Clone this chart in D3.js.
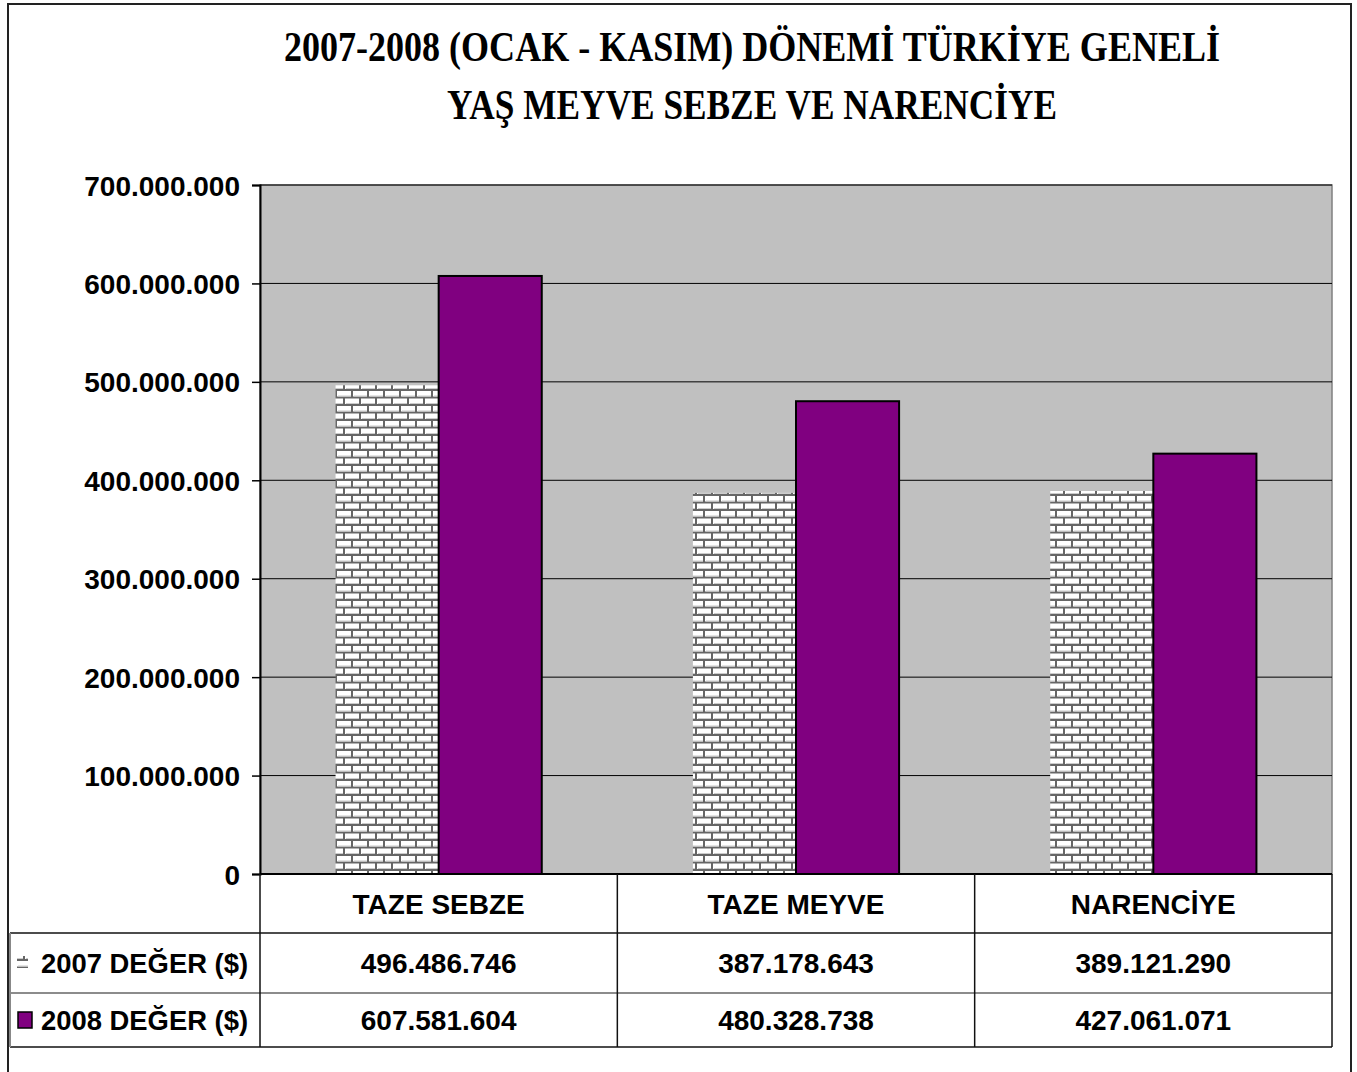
<!DOCTYPE html>
<html>
<head>
<meta charset="utf-8">
<script src="https://cdn.jsdelivr.net/npm/d3@7"></script>
<style>
  body { margin: 0; background: #fff; }
  svg { display: block; }
</style>
</head>
<body>
<svg id="canvas"></svg>
<script>
const categories = ["TAZE SEBZE", "TAZE MEYVE", "NARENCİYE"];
const seriesNames = ["2007 DEĞER ($)", "2008 DEĞER ($)"];
const values2007 = [496486746, 387178643, 389121290];
const values2008 = [607581604, 480328738, 427061071];
const yTicks = [0, 100000000, 200000000, 300000000, 400000000, 500000000, 600000000, 700000000];
const titleLines = ["2007-2008 (OCAK - KASIM) DÖNEMİ TÜRKİYE GENELİ", "YAŞ MEYVE SEBZE VE NARENCİYE"];

const width = 1357;
const height = 1072;
const plot = { left: 260, right: 1332, top: 185, bottom: 874 };
const rowH = [874, 933, 993, 1047];
const sans = "'Liberation Sans', Arial, sans-serif";
const fs = 28;

const tr = d3.formatLocale({ decimal: ",", thousands: ".", grouping: [3], currency: ["", ""] });
const fmt = tr.format(",d");

const canvas = d3.select("#canvas")
    .attr("width", width)
    .attr("height", height);

// brick pattern
const defs = canvas.append("defs");
const pat = defs.append("pattern")
    .attr("id", "brick")
    .attr("patternUnits", "userSpaceOnUse")
    .attr("width", 16)
    .attr("height", 15);
pat.append("rect").attr("width", 16).attr("height", 15).attr("fill", "#666");
const bricks = [[1, 1, 14, 5.5], [-7, 8.5, 14, 5.5], [9, 8.5, 14, 5.5]];
bricks.forEach(b => {
    pat.append("rect").attr("x", b[0]).attr("y", b[1]).attr("width", b[2]).attr("height", b[3]).attr("fill", "#fff");
    pat.append("rect").attr("x", b[0] + 1).attr("y", b[1] + b[3] - 1).attr("width", b[2] - 1).attr("height", 1).attr("fill", "#ccc");
});

// outer frame
canvas.append("rect")
    .attr("x", 8).attr("y", 4)
    .attr("width", 1343).attr("height", 1080)
    .attr("fill", "#fff")
    .attr("stroke", "#222")
    .attr("stroke-width", 2);

// title (stretched a little vertically, like the original)
titleLines.forEach((t, i) => {
    canvas.append("text")
        .attr("transform", `translate(752, ${61 + i * 58}) scale(1, 1.2)`)
        .attr("text-anchor", "middle")
        .attr("font-family", "'Liberation Serif', 'Times New Roman', serif")
        .attr("font-weight", "bold")
        .attr("font-size", 35)
        .attr("textLength", i === 0 ? 936 : 610)
        .attr("lengthAdjust", "spacingAndGlyphs")
        .text(t);
});

const xScale = d3.scaleBand()
    .domain(categories)
    .range([plot.left, plot.right]);
const yScale = d3.scaleLinear()
    .domain([0, 700000000])
    .range([plot.bottom, plot.top]);
const xInner = d3.scaleBand()
    .domain(seriesNames)
    .range([0, xScale.bandwidth()])
    .paddingOuter(0.733);

// plot background
canvas.append("rect")
    .attr("x", plot.left).attr("y", plot.top)
    .attr("width", plot.right - plot.left)
    .attr("height", plot.bottom - plot.top)
    .attr("fill", "#c0c0c0")
    .attr("stroke", "#808080")
    .attr("stroke-width", 1.5);

// gridlines
canvas.append("g")
    .selectAll("line")
    .data(yTicks.slice(1))
    .enter()
    .append("line")
    .attr("x1", plot.left).attr("x2", plot.right)
    .attr("y1", d => yScale(d)).attr("y2", d => yScale(d))
    .attr("stroke", "#000")
    .attr("stroke-width", 1);

// bars
const series = [
    { name: seriesNames[0], values: values2007, fill: "url(#brick)", stroke: "none" },
    { name: seriesNames[1], values: values2008, fill: "#800080", stroke: "#000" }
];
series.forEach(s => {
    canvas.append("g")
        .selectAll("rect")
        .data(categories)
        .enter()
        .append("rect")
        .attr("x", d => xScale(d) + xInner(s.name))
        .attr("y", (d, i) => yScale(s.values[i]))
        .attr("width", xInner.bandwidth())
        .attr("height", (d, i) => plot.bottom - yScale(s.values[i]))
        .attr("fill", s.fill)
        .attr("stroke", s.stroke)
        .attr("stroke-width", 2);
});

// y axis
const yAxis = d3.axisLeft(yScale)
    .tickValues(yTicks)
    .tickFormat(d => d === 0 ? "0" : fmt(d))
    .tickSize(8)
    .tickPadding(12);
const yG = canvas.append("g")
    .attr("transform", `translate(${plot.left}, 0)`)
    .call(yAxis);
yG.select(".domain").attr("stroke", "#000").attr("stroke-width", 2);
yG.selectAll(".tick line").attr("stroke", "#000").attr("stroke-width", 1.5);
yG.selectAll(".tick text")
    .attr("font-family", sans)
    .attr("font-weight", "bold")
    .attr("font-size", fs)
    .attr("dy", "0.36em")
    .attr("fill", "#000");

// data table
const table = canvas.append("g");
const colEdges = categories.map(c => xScale(c)).concat([plot.right]);
table.append("line").attr("x1", plot.left).attr("x2", plot.right)
    .attr("y1", rowH[0]).attr("y2", rowH[0]).attr("stroke", "#000").attr("stroke-width", 2);
[rowH[1], rowH[3]].forEach(y => {
    table.append("line").attr("x1", 10).attr("x2", plot.right)
        .attr("y1", y).attr("y2", y).attr("stroke", "#111").attr("stroke-width", 1.5);
});
table.append("line").attr("x1", 10).attr("x2", plot.right)
    .attr("y1", rowH[2]).attr("y2", rowH[2]).attr("stroke", "#666").attr("stroke-width", 1.5);
colEdges.forEach(x => {
    table.append("line").attr("x1", x).attr("x2", x)
        .attr("y1", rowH[0]).attr("y2", rowH[3]).attr("stroke", "#111").attr("stroke-width", 1.5);
});
table.append("line").attr("x1", 10).attr("x2", 10)
    .attr("y1", rowH[1]).attr("y2", rowH[3]).attr("stroke", "#888").attr("stroke-width", 2);

// header row
table.selectAll(".cat")
    .data(categories)
    .enter()
    .append("text")
    .attr("class", "cat")
    .attr("x", d => xScale(d) + xScale.bandwidth() / 2)
    .attr("y", (rowH[0] + rowH[1]) / 2 + 10)
    .attr("text-anchor", "middle")
    .attr("font-family", sans)
    .attr("font-weight", "bold")
    .attr("font-size", fs)
    .text(d => d);

// value rows
series.forEach((s, r) => {
    const yMid = (rowH[r + 1] + rowH[r + 2]) / 2 + 10;
    table.selectAll(".v" + r)
        .data(categories)
        .enter()
        .append("text")
        .attr("x", d => xScale(d) + xScale.bandwidth() / 2)
        .attr("y", yMid)
        .attr("text-anchor", "middle")
        .attr("font-family", sans)
        .attr("font-weight", "bold")
        .attr("font-size", fs)
        .text((d, i) => fmt(s.values[i]));

    // legend key
    if (r === 0) {
        table.append("rect")
            .attr("x", 17).attr("y", yMid - 17)
            .attr("width", 11).attr("height", 12)
            .attr("fill", "url(#brick)");
    } else {
        table.append("rect")
            .attr("x", 18).attr("y", yMid - 18)
            .attr("width", 14).attr("height", 16)
            .attr("fill", "#800080")
            .attr("stroke", "#000")
            .attr("stroke-width", 1.5);
    }
    table.append("text")
        .attr("x", 41)
        .attr("y", yMid)
        .attr("font-family", sans)
        .attr("font-weight", "bold")
        .attr("font-size", fs)
        .attr("textLength", 207)
        .attr("lengthAdjust", "spacingAndGlyphs")
        .text(s.name);
});
</script>
</body>
</html>
